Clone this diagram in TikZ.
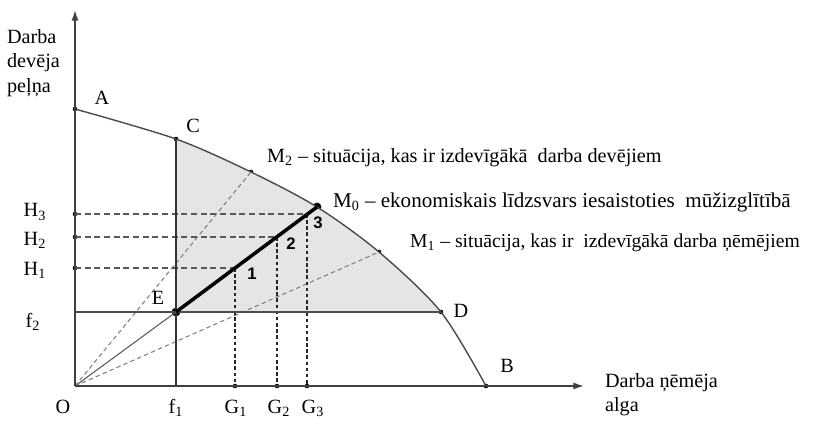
\documentclass[tikz,border=0pt]{standalone}
\usepackage{fontspec}
\setmainfont{Liberation Serif}
\newfontfamily\numfont{Liberation Sans}
\usetikzlibrary{arrows.meta}

\begin{document}
\begin{tikzpicture}[x=0.02cm,y=-0.02cm]
\useasboundingbox (0,0) rectangle (829,423);

\tikzstyle{every node}=[font=\fontsize{11.5}{14}\selectfont,inner sep=1pt];
\tikzstyle{dot}=[circle,fill=black,inner sep=0pt,minimum size=2.6pt];
\tikzstyle{bigdot}=[circle,fill=black,inner sep=0pt,minimum size=5pt];
\tikzstyle{guide}=[dash pattern=on 3.5pt off 2pt,gray!70!black,line width=0.6pt];
\tikzstyle{drop}=[dash pattern=on 2pt off 1.5pt,gray!30!black,line width=0.6pt];
\tikzstyle{ray}=[dash pattern=on 2.5pt off 1.8pt,gray,line width=0.6pt];
\tikzstyle{num}=[font=\numfont\bfseries\fontsize{9.5}{10}\selectfont];

% Draw the points
\coordinate (O) at (75,386);
\node[dot] (A) at (75,109) {};
\node[dot] (C) at (176,139) {};
\node[dot] (M2) at (251,172) {};
\node[bigdot] (M0) at (317,207) {};
\node[dot] (M1) at (379,252) {};
\node[dot] (D) at (441,312) {};
\node[dot] (B) at (486,386) {};
\node[bigdot] (E) at (176,312) {};
\node[bigdot] (p1) at (235,268) {};
\node[bigdot] (p2) at (277,237) {};
\node[bigdot] (p3) at (307,214) {};
\node[dot] (H1) at (75,268) {};
\node[dot] (H2) at (75,237) {};
\node[dot] (H3) at (75,214) {};
\node[dot] (G1) at (235,386) {};
\node[dot] (G2) at (277,386) {};
\node[dot] (G3) at (307,386) {};
\coordinate (F1) at (176,386);
\coordinate (F2) at (75,312);
\coordinate (ytop) at (75,10);
\coordinate (xend) at (584,386);

% Shaded area between E, C, D
\begin{scope}
  \clip (O) -- plot[smooth] coordinates {(A.center) (C.center) (M2.center) (M0.center) (M1.center) (D.center) (B.center)} -- cycle;
  \fill[gray!20] (E.center) rectangle (600,100);
\end{scope}

% Frontier curve
\draw[gray!60!black,line width=0.8pt] plot[smooth] coordinates {(A.center) (C.center) (M2.center) (M0.center) (M1.center) (D.center) (B.center)};

% Rays from the origin
\draw[gray!70!black,line width=0.6pt] (O) -- (E.center);
\draw[ray] (O) -- (M2.center);
\draw[ray] (O) -- (M1.center);

% Guide lines
\draw[guide] (H1.center) -- (p1.center);
\draw[guide] (H2.center) -- (p2.center);
\draw[guide] (H3.center) -- (p3.center);
\draw[drop] (p1.center) -- (G1.center);
\draw[drop] (p2.center) -- (G2.center);
\draw[drop] (p3.center) -- (G3.center);

% Boundary lines
\draw[black!80,line width=0.9pt] (C.center) -- (F1);
\draw[black!70,line width=0.8pt] (F2) -- (D.center);
\draw[line width=2pt] (E.center) -- (M0.center);

% Axes
\draw[black!75,line width=0.9pt,-{Latex[length=6pt,width=4pt]}] (O) -- (ytop);
\draw[black!75,line width=0.9pt,-{Latex[length=6pt,width=4pt]}] (O) -- (xend);

% Labels
\node (lA) at (102,98) {A};
\node (lC) at (193,126) {C};
\node (lE) at (158,298) {E};
\node (lD) at (461,311) {D};
\node (lB) at (507,366) {B};
\node[anchor=west] (lM2) at (265,158) {M\textsubscript{2} – situācija, kas ir izdevīgākā\ \ darba devējiem};
\node[anchor=west,font=\fontsize{12}{14}\selectfont] (lM0) at (331,202) {M\textsubscript{0} – ekonomiskais līdzsvars iesaistoties\ \ mūžizglītībā};
\node[anchor=west,font=\fontsize{11.2}{14}\selectfont] (lM1) at (408,243) {M\textsubscript{1} – situācija, kas ir\ \ izdevīgākā darba ņēmējiem};
\node (lH3) at (35,212) {H\textsubscript{3}};
\node (lH2) at (35,240) {H\textsubscript{2}};
\node (lH1) at (35,270) {H\textsubscript{1}};
\node (lf2) at (33,322) {f\textsubscript{2}};
\node (lO) at (63,407) {O};
\node (lf1) at (176,408) {f\textsubscript{1}};
\node (lG1) at (236,408) {G\textsubscript{1}};
\node (lG2) at (279,408) {G\textsubscript{2}};
\node (lG3) at (313,408) {G\textsubscript{3}};
\node[num] (n1) at (252,274) {1};
\node[num] (n2) at (291,244) {2};
\node[num] (n3) at (318,223) {3};
\node[anchor=north west,align=left] (ytitle) at (5,27) {Darba\\devēja\\peļņa};
\node[anchor=north west,align=left] (xtitle) at (603,371) {Darba ņēmēja\\alga};

\end{tikzpicture}
\end{document}
